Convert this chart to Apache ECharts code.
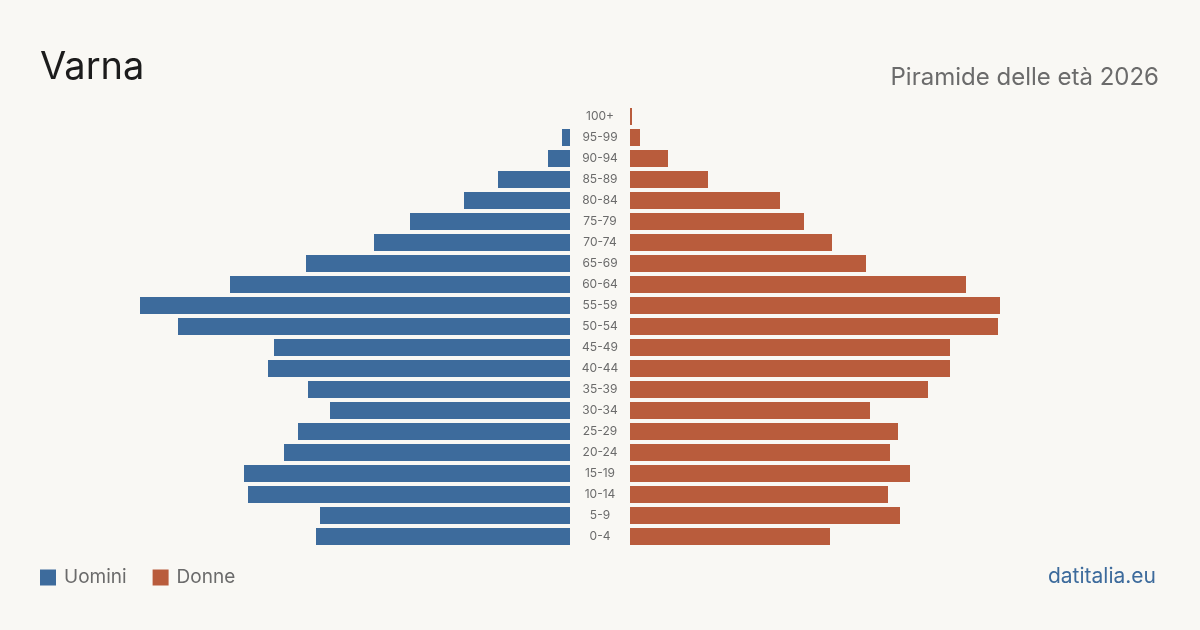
<!DOCTYPE html>
<html>
<head>
<meta charset="utf-8">
<script src="https://cdn.jsdelivr.net/npm/echarts@6/dist/echarts.min.js"></script>
<style>
html,body{margin:0;padding:0;background:#f9f8f4;}
#c{width:1200px;height:630px;}
</style>
</head>
<body>
<div id="c"></div>
<script>
const categories = ['0-4','5-9','10-14','15-19','20-24','25-29','30-34','35-39','40-44','45-49','50-54','55-59','60-64','65-69','70-74','75-79','80-84','85-89','90-94','95-99','100+'];
const uomini = [127,125,161,163,143,136,120,131,151,148,196,215,170,132,98,80,53,36,11,4,0];
const donne  = [100,135,129,140,130,134,120,149,160,160,184,185,168,118,101,87,75,39,19,5,1];
const axisMax = 215;

const chart = echarts.init(document.getElementById('c'));
const font = 'Inter, "Noto Sans", sans-serif';
chart.setOption({
  backgroundColor: '#f9f8f4',
  animation: false,
  textStyle: {fontFamily: font},
  title: [
    {text: 'Varna', left: 40, top: 49, padding: 0, textStyle: {fontSize: 38, fontWeight: 'normal', color: '#1c1c1c', fontFamily: font}},
    {text: 'Piramide delle età 2026', right: 41, top: 66, padding: 0, textStyle: {fontSize: 24, fontWeight: 'normal', color: '#6b6b6b', fontFamily: font}},
    {text: 'datitalia.eu', right: 44, top: 566, padding: 0, textStyle: {fontSize: 21, fontWeight: 'normal', color: '#3d6b9c', fontFamily: font}}
  ],
  legend: {
    left: 40, top: 568, padding: 0,
    icon: 'rect', itemWidth: 16, itemHeight: 16, itemGap: 26,
    textStyle: {fontSize: 19, color: '#6b6b6b', fontFamily: font, padding: [0,0,0,3]},
    data: ['Uomini','Donne']
  },
  grid: [
    {left: 140, width: 430, top: 106, height: 441},
    {left: 630, width: 430, top: 106, height: 441}
  ],
  xAxis: [
    {gridIndex: 0, type: 'value', inverse: true, min: 0, max: axisMax, show: false},
    {gridIndex: 1, type: 'value', min: 0, max: axisMax, show: false}
  ],
  yAxis: [
    {gridIndex: 0, type: 'category', data: categories, position: 'right',
     axisLine: {show: false}, axisTick: {show: false},
     axisLabel: {show: true, align: 'center', margin: 30, fontSize: 12, color: '#6b6b6b', fontFamily: font}},
    {gridIndex: 1, type: 'category', data: categories, show: false}
  ],
  series: [
    {name: 'Uomini', type: 'bar', xAxisIndex: 0, yAxisIndex: 0, data: uomini, barWidth: 17, itemStyle: {color: '#3d6b9c'}},
    {name: 'Donne', type: 'bar', xAxisIndex: 1, yAxisIndex: 1, data: donne, barWidth: 17, itemStyle: {color: '#b95c3c'}}
  ]
});
</script>
</body>
</html>
